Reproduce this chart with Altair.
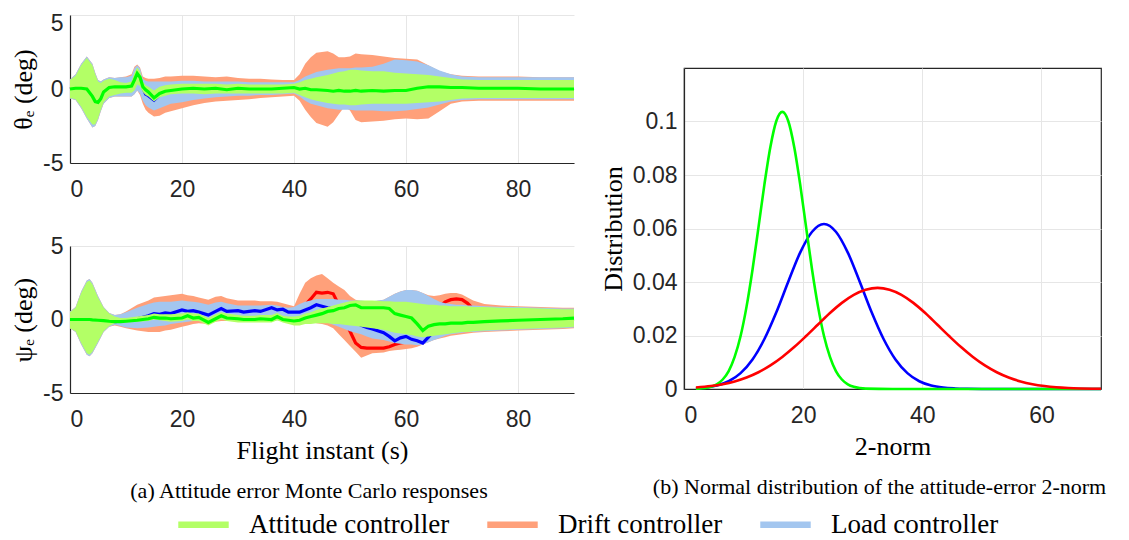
import altair as alt
import pandas as pd

CONTROLLERS = ["Attitude controller", "Drift controller", "Load controller"]
BAND_COLORS = ["#b3ff66", "#ffa07a", "#a3c6ef"]
LINE_COLORS = ["#00ff00", "#ff0000", "#0000ff"]

# ---------------- theta_e panel ----------------
t_theta = [0, 1, 2, 3, 4, 4.5, 5, 5.5, 6, 7,
           8, 9, 10, 11, 11.5, 12, 12.5, 13, 13.5, 14,
           15, 16, 17, 18, 20, 22, 24, 26, 28, 30,
           32, 34, 36, 38, 40, 41, 42, 43, 44, 46,
           47, 48, 49, 50, 51, 52, 54, 56, 58, 60,
           62, 64, 66, 68, 70, 73, 76, 80, 84, 88,
           90]
theta_att_lo = [-0.6, -0.7, -1.2, -1.9, -2.4, -2.4, -2.0, -1.4, -0.9, -0.5,
                -0.4, -0.3, -0.25, -0.25, -0.1, 0.3, 0.2, -0.2, -0.4, -0.5,
                -0.85, -0.55, -0.45, -0.35, -0.3, -0.3, -0.35, -0.3, -0.3, -0.3,
                -0.3, -0.3, -0.3, -0.3, -0.25, -0.4, -0.55, -0.7, -0.8, -0.95,
                -1.0, -1.05, -1.05, -1.1, -1.1, -1.05, -1.0, -1.0, -1.0, -1.0,
                -0.95, -0.9, -0.85, -0.75, -0.65, -0.6, -0.6, -0.6, -0.6, -0.6,
                -0.6]
theta_att_hi = [0.6, 0.9, 1.6, 2.1, 1.6, 1.0, 0.5, 0.4, 0.55, 0.7,
                0.6, 0.45, 0.4, 0.5, 1.1, 1.45, 1.2, 0.5, 0.25, 0.15,
                -0.1, 0.15, 0.25, 0.3, 0.35, 0.35, 0.35, 0.35, 0.3, 0.35,
                0.3, 0.3, 0.3, 0.3, 0.35, 0.45, 0.6, 0.7, 0.8, 0.95,
                1.05, 1.15, 1.2, 1.3, 1.3, 1.25, 1.2, 1.2, 1.1, 1.05,
                1.0, 0.95, 0.85, 0.75, 0.65, 0.6, 0.6, 0.6, 0.6, 0.6,
                0.6]
theta_load_lo = [-0.65, -0.75, -1.3, -2.0, -2.6, -2.5, -2.1, -1.5, -1.0, -0.6,
                 -0.5, -0.5, -0.5, -0.5, -0.35, -0.1, -0.3, -0.8, -1.1, -1.25,
                 -1.45, -1.3, -1.15, -1.0, -0.9, -0.75, -0.65, -0.55, -0.5, -0.45,
                 -0.45, -0.4, -0.4, -0.35, -0.3, -0.5, -0.8, -1.0, -1.1, -1.3,
                 -1.35, -1.4, -1.4, -1.4, -1.45, -1.45, -1.45, -1.5, -1.5, -1.45,
                 -1.35, -1.25, -1.05, -0.85, -0.75, -0.7, -0.7, -0.7, -0.7, -0.7,
                 -0.7]
theta_load_hi = [0.65, 1.0, 1.7, 2.2, 1.7, 1.1, 0.6, 0.5, 0.65, 0.8,
                 0.75, 0.8, 0.8, 0.9, 1.4, 1.6, 1.4, 0.7, 0.55, 0.5,
                 0.5, 0.5, 0.5, 0.5, 0.55, 0.55, 0.5, 0.5, 0.5, 0.5,
                 0.45, 0.45, 0.45, 0.45, 0.45, 0.6, 0.85, 1.0, 1.15, 1.3,
                 1.35, 1.4, 1.4, 1.4, 1.45, 1.45, 1.5, 1.7, 2.0, 1.95,
                 1.85, 1.6, 1.25, 1.0, 0.85, 0.8, 0.8, 0.8, 0.8, 0.8,
                 0.8]
theta_drift_lo = [-0.65, -0.75, -1.3, -2.0, -2.6, -2.5, -2.1, -1.5, -1.0, -0.6,
                  -0.5, -0.5, -0.5, -0.5, -0.35, -0.1, -0.4, -1.0, -1.4, -1.6,
                  -1.85, -1.8, -1.6, -1.5, -1.3, -1.1, -0.95, -0.85, -0.8, -0.75,
                  -0.7, -0.6, -0.55, -0.5, -0.45, -0.8, -1.4, -1.9, -2.3, -2.55,
                  -2.25, -1.7, -1.2, -1.45, -2.1, -2.25, -2.2, -2.15, -2.05, -2.0,
                  -2.05, -2.0, -1.5, -1.0, -0.85, -0.8, -0.8, -0.8, -0.8, -0.8,
                  -0.8]
theta_drift_hi = [0.65, 1.0, 1.7, 2.2, 1.7, 1.1, 0.6, 0.5, 0.65, 0.8,
                  0.75, 0.8, 0.85, 1.0, 1.5, 1.65, 1.45, 0.85, 0.75, 0.7,
                  0.7, 0.75, 0.85, 0.85, 0.9, 0.9, 0.85, 0.8, 0.85, 0.75,
                  0.7, 0.7, 0.65, 0.6, 0.6, 1.0, 1.7, 2.15, 2.45, 2.55,
                  2.4, 2.15, 2.15, 2.2, 2.4, 2.35, 2.3, 2.2, 2.1, 2.05,
                  2.0, 1.6, 1.2, 1.0, 0.9, 0.85, 0.85, 0.85, 0.8, 0.8,
                  0.8]
theta_att_mean = [0.0, 0.05, 0.05, 0.0, -0.5, -0.85, -0.9, -0.65, -0.2, 0.1,
                  0.15, 0.15, 0.15, 0.2, 0.6, 1.05, 0.8, 0.15, -0.05, -0.2,
                  -0.6, -0.3, -0.15, -0.1, 0.0, 0.05, 0.0, 0.05, -0.05, 0.05,
                  0.0, 0.0, 0.0, 0.05, 0.1, 0.0, 0.05, -0.05, -0.05, -0.1,
                  -0.15, -0.1, -0.15, -0.15, -0.1, -0.15, -0.1, -0.15, -0.1, -0.1,
                  0.05, 0.15, 0.15, 0.1, 0.1, 0.05, 0.05, 0.05, 0.0, 0.0,
                  0.0]
theta_load_mean = [0.0, 0.05, 0.05, 0.0, -0.5, -0.85, -0.9, -0.65, -0.2, 0.1,
                   0.15, 0.15, 0.15, 0.2, 0.6, 1.0, 0.75, 0.1, -0.35, -0.45,
                   -0.75, -0.4, -0.2, -0.1, 0.0, 0.05, 0.0, 0.05, -0.05, 0.05,
                   0.0, 0.0, 0.0, 0.05, 0.1, 0.0, 0.05, -0.05, -0.05, -0.1,
                   -0.15, -0.1, -0.15, -0.15, -0.1, -0.15, -0.1, -0.15, -0.1, -0.1,
                   0.05, 0.15, 0.15, 0.1, 0.1, 0.05, 0.05, 0.05, 0.0, 0.0,
                   0.0]
theta_drift_mean = [0.0, 0.05, 0.05, 0.0, -0.5, -0.85, -0.9, -0.65, -0.2, 0.1,
                    0.15, 0.15, 0.15, 0.2, 0.6, 1.0, 0.75, 0.1, -0.4, -0.5,
                    -0.8, -0.45, -0.25, -0.15, -0.05, 0.0, 0.0, 0.0, -0.05, 0.0,
                    0.0, 0.0, 0.0, 0.0, 0.05, 0.0, 0.0, -0.05, -0.1, -0.1,
                    -0.1, -0.1, -0.15, -0.15, -0.1, -0.15, -0.1, -0.1, -0.1, -0.1,
                    0.0, 0.1, 0.1, 0.1, 0.05, 0.05, 0.05, 0.0, 0.0, 0.0,
                    0.0]

# ---------------- psi_e panel ----------------
t_psi = [0, 1, 2, 3, 3.5, 4, 5, 6, 7, 8,
         9, 10, 12, 14, 15, 16, 17, 18, 20, 21,
         22, 23, 24.7, 26, 27, 28, 30, 31, 33, 34,
         36, 37, 38, 39, 40, 41, 42, 43, 44, 45,
         46, 47, 48, 49, 50, 51, 52, 53, 54, 56,
         57, 58, 59, 60, 61, 62, 63, 64, 65, 66,
         67, 68, 69, 70, 71, 72, 74, 77, 80, 84,
         88, 90]
psi_att_lo = [-0.6, -0.8, -1.6, -2.3, -2.4, -2.2, -1.5, -0.8, -0.45, -0.25,
              -0.2, -0.2, -0.15, -0.1, 0.0, -0.05, -0.1, -0.15, -0.1, 0.0,
              -0.1, -0.1, -0.4, -0.15, 0.0, -0.1, -0.2, -0.2, -0.2, -0.2,
              -0.2, -0.05, -0.2, -0.3, -0.4, -0.4, -0.3, -0.3, -0.25, -0.25,
              -0.25, -0.3, -0.3, -0.35, -0.4, -0.45, -0.5, -0.55, -0.6, -0.7,
              -0.8, -0.9, -0.95, -1.0, -1.05, -1.15, -1.2, -1.15, -1.1, -1.05,
              -1.0, -0.95, -0.9, -0.85, -0.85, -0.8, -0.75, -0.7, -0.65, -0.6,
              -0.55, -0.5]
psi_att_hi = [0.5, 0.8, 1.8, 2.55, 2.65, 2.4, 1.5, 0.8, 0.4, 0.2,
              0.1, 0.1, 0.2, 0.3, 0.4, 0.35, 0.35, 0.35, 0.4, 0.5,
              0.4, 0.4, 0.1, 0.35, 0.5, 0.4, 0.3, 0.25, 0.25, 0.3,
              0.3, 0.45, 0.25, 0.2, 0.2, 0.25, 0.4, 0.5, 0.65, 0.75,
              0.85, 0.95, 1.05, 1.15, 1.25, 1.3, 1.3, 1.3, 1.3, 1.25,
              1.25, 1.2, 1.2, 1.2, 1.15, 1.1, 1.05, 1.0, 1.0, 0.95,
              0.95, 0.9, 0.9, 0.9, 0.9, 0.85, 0.85, 0.8, 0.8, 0.75,
              0.7, 0.7]
psi_load_lo = [-0.6, -0.85, -1.7, -2.4, -2.5, -2.3, -1.6, -0.85, -0.5, -0.35,
               -0.45, -0.55, -0.6, -0.55, -0.5, -0.45, -0.4, -0.3, -0.2, -0.15,
               -0.1, -0.1, -0.2, -0.05, 0.05, 0.0, 0.0, 0.0, 0.0, 0.0,
               0.05, 0.1, 0.0, 0.0, -0.05, 0.0, 0.05, 0.05, 0.0, -0.1,
               -0.2, -0.35, -0.5, -0.65, -0.8, -0.9, -1.0, -1.15, -1.3, -1.4,
               -1.5, -1.6, -1.65, -1.7, -1.7, -1.75, -1.7, -1.55, -1.4, -1.25,
               -1.1, -1.0, -0.95, -0.9, -0.85, -0.85, -0.8, -0.75, -0.7, -0.65,
               -0.6, -0.55]
psi_load_hi = [0.55, 0.85, 1.9, 2.65, 2.75, 2.5, 1.6, 0.85, 0.45, 0.3,
               0.35, 0.5, 0.8, 1.05, 1.15, 1.2, 1.2, 1.2, 1.3, 1.25,
               1.2, 1.15, 1.0, 1.15, 1.2, 1.1, 0.95, 0.95, 0.95, 0.95,
               1.0, 0.95, 0.85, 0.8, 0.85, 1.05, 1.2, 1.3, 1.4, 1.4,
               1.4, 1.4, 1.35, 1.35, 1.3, 1.3, 1.3, 1.25, 1.25, 1.35,
               1.55, 1.75, 1.9, 2.0, 2.0, 1.95, 1.8, 1.6, 1.4, 1.2,
               1.1, 1.05, 1.0, 1.0, 0.95, 0.95, 0.9, 0.85, 0.85, 0.8,
               0.75, 0.75]
psi_drift_lo = [-0.6, -0.85, -1.7, -2.4, -2.5, -2.3, -1.6, -0.85, -0.5, -0.4,
                -0.5, -0.6, -0.75, -0.85, -0.85, -0.85, -0.75, -0.7, -0.5, -0.4,
                -0.3, -0.25, -0.3, -0.15, -0.1, -0.1, -0.1, -0.05, -0.05, -0.05,
                0.0, 0.05, -0.05, -0.05, -0.05, -0.05, -0.1, -0.15, -0.25, -0.3,
                -0.4, -0.6, -1.0, -1.4, -1.8, -2.2, -2.6, -2.45, -2.3, -2.25,
                -2.15, -2.1, -2.05, -2.0, -1.95, -1.85, -1.7, -1.55, -1.4, -1.3,
                -1.2, -1.1, -1.05, -1.0, -0.95, -0.9, -0.85, -0.8, -0.75, -0.7,
                -0.65, -0.6]
psi_drift_hi = [0.55, 0.85, 1.9, 2.65, 2.75, 2.5, 1.6, 0.85, 0.45, 0.3,
                0.35, 0.55, 1.0, 1.3, 1.5, 1.55, 1.6, 1.65, 1.75, 1.65,
                1.6, 1.5, 1.35, 1.55, 1.6, 1.45, 1.3, 1.3, 1.3, 1.25,
                1.25, 1.2, 1.1, 1.0, 0.9, 1.75, 2.5, 2.8, 3.0, 3.1,
                2.8, 2.5, 2.25, 2.0, 1.6, 1.35, 1.25, 1.2, 1.2, 1.35,
                1.55, 1.75, 1.9, 2.0, 2.0, 1.95, 1.8, 1.65, 1.6, 1.65,
                1.75, 1.8, 1.8, 1.7, 1.5, 1.3, 1.05, 0.95, 0.9, 0.85,
                0.8, 0.8]
psi_att_mean = [0.0, 0.0, 0.0, 0.0, 0.0, -0.02, -0.05, -0.08, -0.12, -0.15,
                -0.15, -0.12, -0.05, 0.05, 0.15, 0.1, 0.1, 0.05, 0.1, 0.25,
                0.1, 0.15, -0.2, 0.05, 0.25, 0.1, 0.05, 0.0, 0.0, 0.05,
                0.0, 0.2, 0.0, -0.05, -0.1, -0.05, 0.1, 0.2, 0.3, 0.4,
                0.55, 0.6, 0.75, 0.8, 0.95, 1.0, 0.8, 0.8, 0.8, 0.8,
                0.75, 0.4, 0.3, 0.2, 0.1, -0.3, -0.75, -0.45, -0.35, -0.3,
                -0.3, -0.25, -0.25, -0.25, -0.2, -0.2, -0.15, -0.1, -0.05, 0.0,
                0.05, 0.1]
psi_load_mean = [0.0, 0.0, 0.0, 0.0, 0.0, -0.02, -0.05, -0.08, -0.12, -0.15,
                 -0.12, -0.05, 0.05, 0.25, 0.4, 0.35, 0.45, 0.4, 0.65, 0.55,
                 0.6, 0.5, 0.3, 0.55, 0.75, 0.55, 0.6, 0.5, 0.6, 0.55,
                 0.8, 0.65, 0.7, 0.5, 0.5, 0.5, 0.65, 0.8, 1.0, 0.9,
                 0.8, 0.75, 0.5, 0.25, 0.0, -0.2, -0.4, -0.55, -0.65, -0.9,
                 -1.15, -1.45, -1.25, -1.15, -1.35, -1.45, -1.6, -1.2, -0.8, -0.5,
                 -0.3, -0.2, -0.1, 0.0, 0.0, 0.0, 0.0, 0.0, 0.05, 0.05,
                 0.05, 0.05]
psi_drift_mean = [0.0, 0.0, 0.0, 0.0, 0.0, -0.02, -0.05, -0.08, -0.12, -0.15,
                  -0.12, -0.05, 0.1, 0.3, 0.45, 0.45, 0.5, 0.5, 0.7, 0.6,
                  0.65, 0.55, 0.35, 0.6, 0.8, 0.6, 0.6, 0.55, 0.6, 0.6,
                  0.75, 0.65, 0.7, 0.55, 0.5, 0.7, 1.0, 1.4, 1.85, 1.8,
                  1.85, 1.75, 1.0, 0.1, -0.8, -1.6, -1.9, -1.95, -1.95, -1.95,
                  -1.85, -1.7, -1.6, -1.55, -1.5, -1.4, -1.0, -0.3, 0.4, 0.9,
                  1.2, 1.35, 1.4, 1.35, 1.1, 0.7, 0.3, 0.1, 0.05, 0.0,
                  0.0, 0.0]

# ---------------- normal distributions ----------------
att_norm_x = [2, 2.5, 3.5, 4.5, 5.5, 6.5, 7.5, 8.5, 9.5, 10.5, 11.5, 12.5, 13.5, 14.5, 15.5,
              16.5, 17.5, 18.5, 19.5, 20.5, 21.5, 22.5, 23.5, 24.5, 25.5, 26.5, 27.5, 28.5,
              29.5, 30.5, 35, 45, 55, 70]
att_norm_y = [0.0001, 0.00014, 0.00035, 0.0008, 0.00175, 0.00355, 0.0067, 0.012, 0.0198,
              0.0308, 0.0446, 0.0604, 0.0765, 0.0905, 0.1002, 0.1036, 0.1002, 0.0905, 0.0765,
              0.0604, 0.0446, 0.0308, 0.0198, 0.012, 0.0067, 0.00355, 0.00175, 0.0008, 0.00035,
              0.00014, 0.0, 0.0, 0.0, 0.0]
load_norm_x = [2, 3.5, 5.5, 7.5, 9.5, 11.5, 13.5, 15.5, 17.5, 19.5, 21.5, 23.5, 25.5, 27.5,
               29.5, 31.5, 33.5, 35.5, 37.5, 39.5, 41.5, 43.5, 45.5, 47.5, 50, 55, 60, 70]
load_norm_y = [0.00025, 0.00052, 0.00128, 0.00289, 0.00593, 0.01104, 0.0187, 0.0287, 0.0401,
               0.051, 0.0588, 0.0617, 0.0588, 0.051, 0.0401, 0.0287, 0.0187, 0.01104, 0.00593,
               0.00289, 0.00128, 0.00052, 0.0002, 0.00007, 0.00001, 0.0, 0.0, 0.0]
drift_norm_x = [2, 4.5, 6.5, 8.5, 10.5, 12.5, 14.5, 16.5, 18.5, 20.5, 22.5, 24.5, 26.5, 28.5,
                30.5, 32.5, 34.5, 36.5, 38.5, 40.5, 42.5, 44.5, 46.5, 48.5, 50.5, 52.5, 54.5,
                56.5, 58.5, 60.5, 62.5, 64.5, 66.5, 68.5, 70]
drift_norm_y = [0.00059, 0.00112, 0.00181, 0.00284, 0.0043, 0.00627, 0.00882, 0.01197, 0.01567,
                0.0198, 0.0241, 0.0284, 0.0322, 0.0352, 0.0371, 0.0378, 0.0371, 0.0352, 0.0322,
                0.0284, 0.0241, 0.0198, 0.01567, 0.01197, 0.00882, 0.00627, 0.0043, 0.00284,
                0.00181, 0.00112, 0.00066, 0.00038, 0.00021, 0.00011, 0.00007]

SANS = "Liberation Sans"
SERIF = "Liberation Serif"

LEGEND = alt.Legend(
    orient="none", legendX=120, legendY=496, direction="horizontal", columns=3,
    gridAlign="each",
    title=None, symbolType="M-4,-0.5H4V0.5H-4Z", symbolSize=159, symbolStrokeWidth=0,
    symbolOpacity=1, labelFont=SERIF, labelFontSize=27, labelColor="black",
    labelOffset=32, columnPadding=37, labelLimit=400,
)


def panel(t, series, ytitle, xtitle, with_legend, top_label_shift):
    xaxis = alt.Axis(values=[0, 20, 40, 60, 80], title=xtitle, labelPadding=15)
    yaxis_kw = dict(values=[-5, 0, 5], title=ytitle, labelExpr="'' + datum.value",
                    labelPadding=7)
    if top_label_shift:
        yaxis_kw["labelOffset"] = {"condition": {"test": "datum.value == 5", "value": 8}, "value": 0}
    yaxis = alt.Axis(**yaxis_kw)
    xs = alt.Scale(domain=[0, 90], nice=False, zero=False)
    ys = alt.Scale(domain=[-5, 5], nice=False)
    layers = []
    for ctrl in ["Drift controller", "Load controller", "Attitude controller"]:
        lo, hi, mean = series[ctrl]
        i = CONTROLLERS.index(ctrl)
        df = pd.DataFrame({"t": t, "lo": lo, "hi": hi, "m": mean, "ctrl": ctrl})
        if with_legend:
            color = alt.Color("ctrl:N", scale=alt.Scale(domain=CONTROLLERS, range=BAND_COLORS),
                              legend=LEGEND)
        else:
            color = alt.value(BAND_COLORS[i])
        band = alt.Chart(df).mark_area(opacity=1, strokeWidth=0).encode(
            x=alt.X("t:Q", scale=xs, axis=xaxis),
            y=alt.Y("lo:Q", scale=ys, axis=yaxis),
            y2="hi:Q",
            color=color,
        )
        line = alt.Chart(df).mark_line(color=LINE_COLORS[i], strokeWidth=3.2).encode(
            x=alt.X("t:Q", scale=xs, axis=xaxis),
            y=alt.Y("m:Q", scale=ys, axis=yaxis),
        )
        layers += [band, line]
    return alt.layer(*layers)


top = panel(
    t_theta,
    {"Attitude controller": (theta_att_lo, theta_att_hi, theta_att_mean),
     "Drift controller": (theta_drift_lo, theta_drift_hi, theta_drift_mean),
     "Load controller": (theta_load_lo, theta_load_hi, theta_load_mean)},
    "θₑ (deg)", None, True, True,
).properties(width=504, height=148)

bottom = panel(
    t_psi,
    {"Attitude controller": (psi_att_lo, psi_att_hi, psi_att_mean),
     "Drift controller": (psi_drift_lo, psi_drift_hi, psi_drift_mean),
     "Load controller": (psi_load_lo, psi_load_hi, psi_load_mean)},
    "ψₑ (deg)", "Flight instant (s)", False, False,
).properties(
    width=504, height=147,
    title=alt.TitleParams("(a) Attitude error Monte Carlo responses", orient="bottom",
                          anchor="middle", frame="group", offset=18, dx=-13,
                          font=SERIF, fontSize=22, fontWeight="normal", color="black"),
)

left = alt.vconcat(top, bottom, spacing=83, bounds="flush")


def norm_line(xs, ys, color):
    df = pd.DataFrame({"x": xs, "y": ys})
    return alt.Chart(df).mark_line(color=color, strokeWidth=2.6, interpolate="monotone").encode(
        x=alt.X("x:Q", scale=alt.Scale(domain=[0, 70], nice=False, zero=False),
                axis=alt.Axis(values=[0, 20, 40, 60], title="2-norm", labelPadding=15)),
        y=alt.Y("y:Q", scale=alt.Scale(domain=[0, 0.12], nice=False),
                axis=alt.Axis(values=[0, 0.02, 0.04, 0.06, 0.08, 0.1], format="~g",
                              title="Distribution", labelPadding=7)),
    )


right = alt.layer(
    norm_line(load_norm_x, load_norm_y, "#0000ff"),
    norm_line(att_norm_x, att_norm_y, "#00ff00"),
    norm_line(drift_norm_x, drift_norm_y, "#ff0000"),
).properties(
    width=417, height=321,
    view=alt.ViewBackground(stroke="#262626", strokeWidth=1.2),
    title=alt.TitleParams("(b) Normal distribution of the attitude-error 2-norm", orient="bottom",
                          anchor="middle", frame="group", offset=18, dx=-13,
                          font=SERIF, fontSize=22, fontWeight="normal", color="black"),
)

spacer = alt.Chart(pd.DataFrame({"v": [0]})).mark_point(opacity=0).encode(
    x=alt.X("v:Q", axis=None), y=alt.Y("v:Q", axis=None)
).properties(width=417, height=53)

right_col = alt.vconcat(spacer, right, spacing=0, bounds="flush")

chart = alt.hconcat(left, right_col, spacing=18).properties(
    padding={"left": 2, "top": 4, "right": 5, "bottom": 5}
).configure_view(
    strokeWidth=0
).configure_axis(
    domainColor="#262626", domainWidth=1.2,
    labelFont=SANS, labelFontSize=23, labelColor="#262626",
    titleFont=SERIF, titleFontSize=26, titleFontWeight="normal", titleColor="black",
    titlePadding=6, gridColor="#e6e6e6", gridWidth=1, ticks=False, tickSize=0,
)

chart.save("out.html", embed_options={"renderer": "svg", "actions": False})
